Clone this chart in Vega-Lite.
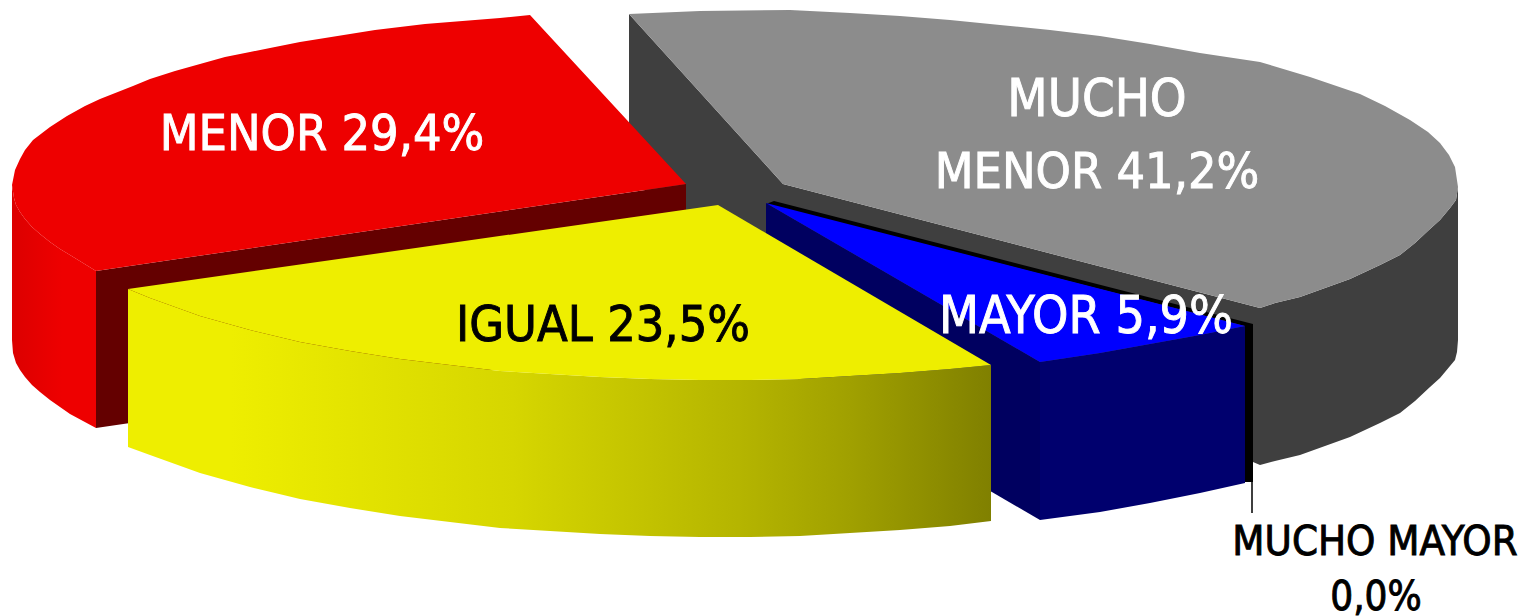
{"$schema":"https://vega.github.io/schema/vega-lite/v6.json","width":1520,"height":616,"padding":0,"autosize":{"type":"none"},"background":"white","view":{"stroke":null},
"datasets":{"outline":[
{"part":"grayInner","seq":1,"x":629,"y":14},{"part":"grayInner","seq":2,"x":783,"y":184},{"part":"grayInner","seq":3,"x":1260,"y":308},{"part":"grayInner","seq":4,"x":1260,"y":465},{"part":"grayInner","seq":5,"x":1253,"y":462},{"part":"grayInner","seq":6,"x":783,"y":340},{"part":"grayInner","seq":7,"x":629,"y":172},
{"part":"black","seq":1,"x":774,"y":201},{"part":"black","seq":2,"x":1253,"y":324},{"part":"black","seq":3,"x":1253,"y":482},{"part":"black","seq":4,"x":1245,"y":482},{"part":"black","seq":5,"x":1245,"y":326},{"part":"black","seq":6,"x":766,"y":204},
{"part":"grayOuter","seq":1,"x":1458,"y":187},{"part":"grayOuter","seq":2,"x":1456,"y":200},{"part":"grayOuter","seq":3,"x":1450,"y":208},{"part":"grayOuter","seq":4,"x":1440,"y":220},{"part":"grayOuter","seq":5,"x":1430,"y":229},{"part":"grayOuter","seq":6,"x":1415,"y":243},{"part":"grayOuter","seq":7,"x":1400,"y":255},{"part":"grayOuter","seq":8,"x":1380,"y":265},{"part":"grayOuter","seq":9,"x":1350,"y":279},{"part":"grayOuter","seq":10,"x":1325,"y":288},{"part":"grayOuter","seq":11,"x":1300,"y":297},{"part":"grayOuter","seq":12,"x":1275,"y":303},{"part":"grayOuter","seq":13,"x":1260,"y":308},{"part":"grayOuter","seq":14,"x":1260,"y":465},{"part":"grayOuter","seq":15,"x":1275,"y":461},{"part":"grayOuter","seq":16,"x":1300,"y":455},{"part":"grayOuter","seq":17,"x":1325,"y":446},{"part":"grayOuter","seq":18,"x":1350,"y":437},{"part":"grayOuter","seq":19,"x":1380,"y":423},{"part":"grayOuter","seq":20,"x":1400,"y":413},{"part":"grayOuter","seq":21,"x":1415,"y":401},{"part":"grayOuter","seq":22,"x":1430,"y":387},{"part":"grayOuter","seq":23,"x":1440,"y":378},{"part":"grayOuter","seq":24,"x":1450,"y":366},{"part":"grayOuter","seq":25,"x":1455,"y":360},{"part":"grayOuter","seq":26,"x":1457,"y":352},{"part":"grayOuter","seq":27,"x":1458,"y":340},
{"part":"grayTop","seq":1,"x":629,"y":14},{"part":"grayTop","seq":2,"x":700,"y":11},{"part":"grayTop","seq":3,"x":790,"y":10},{"part":"grayTop","seq":4,"x":850,"y":13},{"part":"grayTop","seq":5,"x":900,"y":16},{"part":"grayTop","seq":6,"x":950,"y":20},{"part":"grayTop","seq":7,"x":1000,"y":25},{"part":"grayTop","seq":8,"x":1050,"y":30},{"part":"grayTop","seq":9,"x":1100,"y":36},{"part":"grayTop","seq":10,"x":1150,"y":44},{"part":"grayTop","seq":11,"x":1200,"y":53},{"part":"grayTop","seq":12,"x":1260,"y":62},{"part":"grayTop","seq":13,"x":1310,"y":77},{"part":"grayTop","seq":14,"x":1360,"y":94},{"part":"grayTop","seq":15,"x":1385,"y":106},{"part":"grayTop","seq":16,"x":1410,"y":120},{"part":"grayTop","seq":17,"x":1428,"y":132},{"part":"grayTop","seq":18,"x":1440,"y":143},{"part":"grayTop","seq":19,"x":1449,"y":155},{"part":"grayTop","seq":20,"x":1455,"y":167},{"part":"grayTop","seq":21,"x":1458,"y":187},{"part":"grayTop","seq":22,"x":1456,"y":200},{"part":"grayTop","seq":23,"x":1450,"y":208},{"part":"grayTop","seq":24,"x":1440,"y":220},{"part":"grayTop","seq":25,"x":1430,"y":229},{"part":"grayTop","seq":26,"x":1415,"y":243},{"part":"grayTop","seq":27,"x":1400,"y":255},{"part":"grayTop","seq":28,"x":1380,"y":265},{"part":"grayTop","seq":29,"x":1350,"y":279},{"part":"grayTop","seq":30,"x":1325,"y":288},{"part":"grayTop","seq":31,"x":1300,"y":297},{"part":"grayTop","seq":32,"x":1275,"y":303},{"part":"grayTop","seq":33,"x":1260,"y":308},{"part":"grayTop","seq":34,"x":783,"y":184},
{"part":"redOuter","seq":1,"x":12,"y":185},{"part":"redOuter","seq":2,"x":14,"y":198},{"part":"redOuter","seq":3,"x":16,"y":205},{"part":"redOuter","seq":4,"x":20,"y":212},{"part":"redOuter","seq":5,"x":25,"y":219},{"part":"redOuter","seq":6,"x":32,"y":227},{"part":"redOuter","seq":7,"x":40,"y":234},{"part":"redOuter","seq":8,"x":50,"y":242},{"part":"redOuter","seq":9,"x":60,"y":249},{"part":"redOuter","seq":10,"x":70,"y":255},{"part":"redOuter","seq":11,"x":83,"y":263},{"part":"redOuter","seq":12,"x":96,"y":271},{"part":"redOuter","seq":13,"x":96,"y":428},{"part":"redOuter","seq":14,"x":83,"y":421},{"part":"redOuter","seq":15,"x":70,"y":414},{"part":"redOuter","seq":16,"x":60,"y":407},{"part":"redOuter","seq":17,"x":50,"y":400},{"part":"redOuter","seq":18,"x":40,"y":392},{"part":"redOuter","seq":19,"x":32,"y":385},{"part":"redOuter","seq":20,"x":25,"y":377},{"part":"redOuter","seq":21,"x":20,"y":370},{"part":"redOuter","seq":22,"x":16,"y":363},{"part":"redOuter","seq":23,"x":13,"y":353},{"part":"redOuter","seq":24,"x":12,"y":340},
{"part":"redInner","seq":1,"x":96,"y":271},{"part":"redInner","seq":2,"x":686,"y":184},{"part":"redInner","seq":3,"x":686,"y":341},{"part":"redInner","seq":4,"x":96,"y":428},
{"part":"redTop","seq":1,"x":530,"y":15},{"part":"redTop","seq":2,"x":500,"y":18},{"part":"redTop","seq":3,"x":475,"y":20},{"part":"redTop","seq":4,"x":450,"y":22},{"part":"redTop","seq":5,"x":425,"y":24},{"part":"redTop","seq":6,"x":400,"y":27},{"part":"redTop","seq":7,"x":375,"y":30},{"part":"redTop","seq":8,"x":350,"y":34},{"part":"redTop","seq":9,"x":325,"y":38},{"part":"redTop","seq":10,"x":300,"y":42},{"part":"redTop","seq":11,"x":275,"y":47},{"part":"redTop","seq":12,"x":250,"y":52},{"part":"redTop","seq":13,"x":225,"y":57},{"part":"redTop","seq":14,"x":200,"y":64},{"part":"redTop","seq":15,"x":175,"y":71},{"part":"redTop","seq":16,"x":150,"y":79},{"part":"redTop","seq":17,"x":133,"y":86},{"part":"redTop","seq":18,"x":100,"y":99},{"part":"redTop","seq":19,"x":85,"y":106},{"part":"redTop","seq":20,"x":67,"y":116},{"part":"redTop","seq":21,"x":50,"y":127},{"part":"redTop","seq":22,"x":33,"y":140},{"part":"redTop","seq":23,"x":25,"y":150},{"part":"redTop","seq":24,"x":20,"y":159},{"part":"redTop","seq":25,"x":15,"y":170},{"part":"redTop","seq":26,"x":12,"y":185},{"part":"redTop","seq":27,"x":14,"y":198},{"part":"redTop","seq":28,"x":16,"y":205},{"part":"redTop","seq":29,"x":20,"y":212},{"part":"redTop","seq":30,"x":25,"y":219},{"part":"redTop","seq":31,"x":32,"y":227},{"part":"redTop","seq":32,"x":40,"y":234},{"part":"redTop","seq":33,"x":50,"y":242},{"part":"redTop","seq":34,"x":60,"y":249},{"part":"redTop","seq":35,"x":70,"y":255},{"part":"redTop","seq":36,"x":83,"y":263},{"part":"redTop","seq":37,"x":96,"y":271},{"part":"redTop","seq":38,"x":686,"y":184},
{"part":"blueInner","seq":1,"x":766,"y":203},{"part":"blueInner","seq":2,"x":1040,"y":362},{"part":"blueInner","seq":3,"x":1040,"y":520},{"part":"blueInner","seq":4,"x":766,"y":360},
{"part":"blueOuter","seq":1,"x":1040,"y":362},{"part":"blueOuter","seq":2,"x":1100,"y":353},{"part":"blueOuter","seq":3,"x":1150,"y":344},{"part":"blueOuter","seq":4,"x":1200,"y":335},{"part":"blueOuter","seq":5,"x":1245,"y":326},{"part":"blueOuter","seq":6,"x":1245,"y":483},{"part":"blueOuter","seq":7,"x":1200,"y":493},{"part":"blueOuter","seq":8,"x":1150,"y":503},{"part":"blueOuter","seq":9,"x":1100,"y":512},{"part":"blueOuter","seq":10,"x":1040,"y":520},
{"part":"blueTop","seq":1,"x":766,"y":203},{"part":"blueTop","seq":2,"x":1245,"y":326},{"part":"blueTop","seq":3,"x":1200,"y":335},{"part":"blueTop","seq":4,"x":1150,"y":344},{"part":"blueTop","seq":5,"x":1100,"y":353},{"part":"blueTop","seq":6,"x":1040,"y":362},
{"part":"yellowOuter","seq":1,"x":128,"y":289},{"part":"yellowOuter","seq":2,"x":150,"y":298},{"part":"yellowOuter","seq":3,"x":175,"y":307},{"part":"yellowOuter","seq":4,"x":200,"y":316},{"part":"yellowOuter","seq":5,"x":225,"y":323},{"part":"yellowOuter","seq":6,"x":250,"y":330},{"part":"yellowOuter","seq":7,"x":275,"y":336},{"part":"yellowOuter","seq":8,"x":300,"y":342},{"part":"yellowOuter","seq":9,"x":350,"y":351},{"part":"yellowOuter","seq":10,"x":400,"y":359},{"part":"yellowOuter","seq":11,"x":450,"y":365},{"part":"yellowOuter","seq":12,"x":500,"y":371},{"part":"yellowOuter","seq":13,"x":550,"y":374},{"part":"yellowOuter","seq":14,"x":600,"y":377},{"part":"yellowOuter","seq":15,"x":650,"y":379},{"part":"yellowOuter","seq":16,"x":700,"y":380},{"part":"yellowOuter","seq":17,"x":750,"y":380},{"part":"yellowOuter","seq":18,"x":800,"y":379},{"part":"yellowOuter","seq":19,"x":850,"y":376},{"part":"yellowOuter","seq":20,"x":900,"y":373},{"part":"yellowOuter","seq":21,"x":950,"y":369},{"part":"yellowOuter","seq":22,"x":991,"y":365},{"part":"yellowOuter","seq":23,"x":991,"y":521},{"part":"yellowOuter","seq":24,"x":950,"y":526},{"part":"yellowOuter","seq":25,"x":900,"y":530},{"part":"yellowOuter","seq":26,"x":850,"y":533},{"part":"yellowOuter","seq":27,"x":800,"y":536},{"part":"yellowOuter","seq":28,"x":750,"y":537},{"part":"yellowOuter","seq":29,"x":700,"y":537},{"part":"yellowOuter","seq":30,"x":650,"y":536},{"part":"yellowOuter","seq":31,"x":600,"y":534},{"part":"yellowOuter","seq":32,"x":550,"y":531},{"part":"yellowOuter","seq":33,"x":500,"y":528},{"part":"yellowOuter","seq":34,"x":450,"y":522},{"part":"yellowOuter","seq":35,"x":400,"y":516},{"part":"yellowOuter","seq":36,"x":350,"y":508},{"part":"yellowOuter","seq":37,"x":300,"y":499},{"part":"yellowOuter","seq":38,"x":275,"y":493},{"part":"yellowOuter","seq":39,"x":250,"y":487},{"part":"yellowOuter","seq":40,"x":225,"y":480},{"part":"yellowOuter","seq":41,"x":200,"y":473},{"part":"yellowOuter","seq":42,"x":175,"y":464},{"part":"yellowOuter","seq":43,"x":150,"y":455},{"part":"yellowOuter","seq":44,"x":128,"y":447},
{"part":"yellowTop","seq":1,"x":718,"y":205},{"part":"yellowTop","seq":2,"x":128,"y":289},{"part":"yellowTop","seq":3,"x":150,"y":298},{"part":"yellowTop","seq":4,"x":175,"y":307},{"part":"yellowTop","seq":5,"x":200,"y":316},{"part":"yellowTop","seq":6,"x":225,"y":323},{"part":"yellowTop","seq":7,"x":250,"y":330},{"part":"yellowTop","seq":8,"x":275,"y":336},{"part":"yellowTop","seq":9,"x":300,"y":342},{"part":"yellowTop","seq":10,"x":350,"y":351},{"part":"yellowTop","seq":11,"x":400,"y":359},{"part":"yellowTop","seq":12,"x":450,"y":365},{"part":"yellowTop","seq":13,"x":500,"y":371},{"part":"yellowTop","seq":14,"x":550,"y":374},{"part":"yellowTop","seq":15,"x":600,"y":377},{"part":"yellowTop","seq":16,"x":650,"y":379},{"part":"yellowTop","seq":17,"x":700,"y":380},{"part":"yellowTop","seq":18,"x":750,"y":380},{"part":"yellowTop","seq":19,"x":800,"y":379},{"part":"yellowTop","seq":20,"x":850,"y":376},{"part":"yellowTop","seq":21,"x":900,"y":373},{"part":"yellowTop","seq":22,"x":950,"y":369},{"part":"yellowTop","seq":23,"x":991,"y":365},
{"part":"leader","seq":1,"x":1245,"y":481},{"part":"leader","seq":2,"x":1252,"y":481},{"part":"leader","seq":3,"x":1252,"y":513}
],
"labels":[
{"category":"MUCHO MENOR","share":41.2,"text":"MUCHO","x":1097,"y":116,"ink":"white","size":52},
{"category":"MUCHO MENOR","share":41.2,"text":"MENOR 41,2%","x":1097,"y":188,"ink":"white","size":50},
{"category":"MENOR","share":29.4,"text":"MENOR 29,4%","x":322,"y":150,"ink":"white","size":50},
{"category":"IGUAL","share":23.5,"text":"IGUAL 23,5%","x":603,"y":341,"ink":"black","size":50},
{"category":"MAYOR","share":5.9,"text":"MAYOR 5,9%","x":1086,"y":333,"ink":"white","size":51.5},
{"category":"MUCHO MAYOR","share":0,"text":"MUCHO MAYOR","x":1375,"y":555,"ink":"black","size":41.5},
{"category":"MUCHO MAYOR","share":0,"text":"0,0%","x":1376,"y":610,"ink":"black","size":40}
]},
"data":{"name":"outline"},
"encoding":{"x":{"field":"x","type":"quantitative","axis":null,"scale":{"domain":[0,1520],"nice":false,"zero":false}},"y":{"field":"y","type":"quantitative","axis":null,"scale":{"domain":[616,0],"nice":false,"zero":false}},"order":{"field":"seq","type":"quantitative"}},
"layer":[
{"transform":[{"filter":"datum.part==='grayInner'"}],"mark":{"type":"line","fill":"#3f3f3f","stroke":null,"strokeWidth":0}},
{"transform":[{"filter":"datum.part==='black'"}],"mark":{"type":"line","fill":"#000000","stroke":null,"strokeWidth":0}},
{"transform":[{"filter":"datum.part==='grayOuter'"}],"mark":{"type":"line","fill":"#3f3f3f","stroke":null,"strokeWidth":0}},
{"transform":[{"filter":"datum.part==='grayTop'"}],"mark":{"type":"line","fill":"#8c8c8c","stroke":null,"strokeWidth":0}},
{"transform":[{"filter":"datum.part==='redOuter'"}],"mark":{"type":"line","fill":{"gradient":"linear","x1":0,"y1":0,"x2":1,"y2":0,"stops":[{"offset":0,"color":"#dc0000"},{"offset":0.6,"color":"#ee0000"},{"offset":1,"color":"#ee0000"}]},"stroke":null,"strokeWidth":0}},
{"transform":[{"filter":"datum.part==='redInner'"}],"mark":{"type":"line","fill":"#640000","stroke":null,"strokeWidth":0}},
{"transform":[{"filter":"datum.part==='redTop'"}],"mark":{"type":"line","fill":"#ee0000","stroke":null,"strokeWidth":0}},
{"transform":[{"filter":"datum.part==='blueInner'"}],"mark":{"type":"line","fill":"#000060","stroke":null,"strokeWidth":0}},
{"transform":[{"filter":"datum.part==='blueOuter'"}],"mark":{"type":"line","fill":"#00006e","stroke":null,"strokeWidth":0}},
{"transform":[{"filter":"datum.part==='blueTop'"}],"mark":{"type":"line","fill":"#0000ff","stroke":null,"strokeWidth":0}},
{"transform":[{"filter":"datum.part==='yellowOuter'"}],"mark":{"type":"line","fill":{"gradient":"linear","x1":0,"y1":0,"x2":1,"y2":0,"stops":[{"offset":0,"color":"#eeee00"},{"offset":0.12,"color":"#eeee00"},{"offset":0.446,"color":"#d6d600"},{"offset":0.707,"color":"#b5b500"},{"offset":0.837,"color":"#a0a000"},{"offset":1,"color":"#808000"}]},"stroke":null,"strokeWidth":0}},
{"transform":[{"filter":"datum.part==='yellowTop'"}],"mark":{"type":"line","fill":"#eeee00","stroke":null,"strokeWidth":0}},
{"transform":[{"filter":"datum.part==='leader'"}],"mark":{"type":"line","stroke":"#000000","strokeWidth":1.5}},
{"data":{"name":"labels"},"mark":{"type":"text","font":"DejaVu Sans Condensed","align":"center","baseline":"alphabetic","strokeWidth":0.9},"encoding":{"order":{"value":null},"text":{"field":"text","type":"nominal"},"color":{"field":"ink","type":"nominal","scale":null},"stroke":{"field":"ink","type":"nominal","scale":null},"size":{"field":"size","type":"quantitative","scale":null}}}
]}
